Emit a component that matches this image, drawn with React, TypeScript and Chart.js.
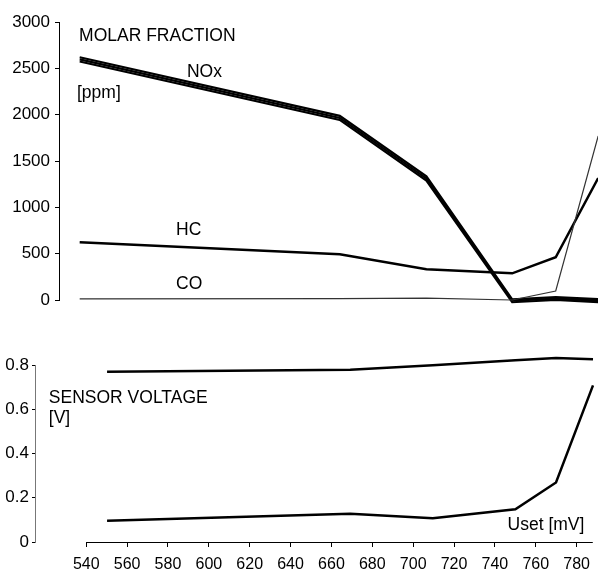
import React, { useEffect, useRef } from 'react';
import { Chart, registerables } from 'chart.js';

Chart.register(...registerables);

const FONT = "'Liberation Sans', Arial, Helvetica, sans-serif";

// Upper panel: molar fraction [ppm] vs Uset [mV]
const GAS_X = [536.6, 662.7, 704.7, 746.3, 767.4, 788];
const NOX_A = [2620, 1987, 1335, 8, 30, 10];
const NOX_B = [2597, 1965, 1312, -8, 14, -6];
const NOX_C = [2574, 1943, 1289, -24, 0, -22];
const HC = [622, 493, 331, 288, 461, 1316];
const CO = [12, 15, 20, 0, 97, 1770];

// Lower panel: sensor voltage [V] vs Uset [mV]
const VOLT_X = [550.2, 669.2, 709.6, 750, 769.9, 788];
const V_HIGH = [0.77, 0.779, 0.799, 0.821, 0.832, 0.826];
const V_LOW = [0.096, 0.128, 0.107, 0.148, 0.269, 0.708];

// Tick labels
const X_TICKS = [540, 560, 580, 600, 620, 640, 660, 680, 700, 720, 740, 760, 780];
const PPM_TICKS = [0, 500, 1000, 1500, 2000, 2500, 3000];
const V_TICKS = [0, 0.2, 0.4, 0.6, 0.8];

// Text labels (placed in data coordinates)
const TOP_TEXTS = [
  { text: 'MOLAR FRACTION', x: 536.3, y: 2798 },
  { text: 'NOx', x: 588.6, y: 2403 },
  { text: '[ppm]', x: 535.3, y: 2180 },
  { text: 'HC', x: 583.3, y: 701 },
  { text: 'CO', x: 583.3, y: 124 },
];
const BOTTOM_TEXTS = [
  { text: 'SENSOR VOLTAGE', x: 521.7, y: 0.626 },
  { text: '[V]', x: 521.7, y: 0.54 },
  { text: 'Uset [mV]', x: 746.2, y: 0.054 },
];

const pts = (xs: number[], ys: number[]) => xs.map((x, i) => ({ x, y: ys[i] }));

const textPlugin = (items: { text: string; x: number; y: number }[]) => ({
  id: 'texts',
  afterDatasetsDraw(chart: any) {
    const { ctx, scales } = chart;
    ctx.save();
    ctx.fillStyle = '#000';
    ctx.font = `17.5px ${FONT}`;
    ctx.textAlign = 'left';
    ctx.textBaseline = 'alphabetic';
    for (const it of items) {
      ctx.fillText(it.text, scales.x.getPixelForValue(it.x), scales.y.getPixelForValue(it.y));
    }
    ctx.restore();
  },
});

const xAxisLine = {
  id: 'xAxisLine',
  afterDraw(chart: any) {
    const { ctx, chartArea, scales } = chart;
    const x0 = scales.x.getPixelForValue(X_TICKS[0]);
    const y = Math.round(chartArea.bottom) + 0.5;
    ctx.save();
    ctx.strokeStyle = '#000';
    ctx.lineWidth = 1;
    ctx.beginPath();
    ctx.moveTo(x0, y);
    ctx.lineTo(chartArea.right, y);
    ctx.stroke();
    ctx.restore();
  },
};

const line = (data: any[], width: number, color = '#000') => ({
  data,
  borderColor: color,
  backgroundColor: color,
  borderWidth: width,
  pointRadius: 0,
  tension: 0,
  fill: false,
  clip: false as any,
});

export default function App() {
  const topRef = useRef<HTMLCanvasElement>(null);
  const botRef = useRef<HTMLCanvasElement>(null);

  useEffect(() => {
    const common = {
      animation: false as const,
      responsive: false,
      events: [] as any[],
      plugins: { legend: { display: false }, tooltip: { enabled: false } },
    };

    const top = new Chart(topRef.current!, {
      type: 'line',
      data: {
        datasets: [
          line(pts(GAS_X, CO), 1.2, '#333'),
          line(pts(GAS_X, HC), 2.5),
          line(pts(GAS_X, NOX_A), 2.2),
          line(pts(GAS_X, NOX_B), 2.2),
          line(pts(GAS_X, NOX_C), 2.2),
        ],
      },
      options: {
        ...common,
        layout: { padding: { top: 22, bottom: 20, left: 0, right: 0 } },
        scales: {
          x: { type: 'linear', display: false, min: 526.57, max: 787.9 },
          y: {
            type: 'linear',
            min: 0,
            max: 3000,
            afterBuildTicks: (s: any) => {
              s.ticks = PPM_TICKS.map((v) => ({ value: v }));
            },
            afterFit: (s: any) => {
              s.width = 59;
            },
            grid: { drawOnChartArea: false, drawTicks: true, tickLength: 4, color: '#000', lineWidth: 1 },
            border: { display: true, color: '#000', width: 1 },
            ticks: {
              color: '#000',
              padding: 5,
              font: { family: FONT, size: 17 },
              callback: (v: any) => String(v),
            },
          },
        },
      },
      plugins: [textPlugin(TOP_TEXTS)],
    } as any);

    const bottom = new Chart(botRef.current!, {
      type: 'line',
      data: {
        datasets: [line(pts(VOLT_X, V_HIGH), 2.5), line(pts(VOLT_X, V_LOW), 2.5)],
      },
      options: {
        ...common,
        layout: { padding: { top: 45, bottom: 0, left: 0, right: 0 } },
        scales: {
          x: {
            type: 'linear',
            min: 514.93,
            max: 787.9,
            afterBuildTicks: (s: any) => {
              s.ticks = X_TICKS.map((v) => ({ value: v }));
            },
            afterFit: (s: any) => {
              s.height = 30;
            },
            grid: { drawOnChartArea: false, drawTicks: true, tickLength: 5, color: '#000' },
            border: { display: false },
            ticks: {
              color: '#000',
              padding: 8,
              autoSkip: false,
              maxRotation: 0,
              font: { family: FONT, size: 16 },
              callback: (v: any) => String(v),
            },
          },
          y: {
            type: 'linear',
            min: 0,
            max: 0.8,
            afterBuildTicks: (s: any) => {
              s.ticks = V_TICKS.map((v) => ({ value: v }));
            },
            afterFit: (s: any) => {
              s.width = 35;
            },
            grid: { drawOnChartArea: false, drawTicks: true, tickLength: 3, color: '#000' },
            border: { display: true, color: '#777', width: 1 },
            ticks: {
              color: '#000',
              padding: 3,
              font: { family: FONT, size: 17 },
              callback: (v: any) => String(v),
            },
          },
        },
      },
      plugins: [textPlugin(BOTTOM_TEXTS), xAxisLine],
    } as any);

    return () => {
      top.destroy();
      bottom.destroy();
    };
  }, []);

  return (
    <div style={{ position: 'absolute', left: 0, top: 0, width: 598, height: 572, background: '#fff' }}>
      <canvas ref={topRef} width={598} height={320} style={{ position: 'absolute', left: 0, top: 0, display: 'block' }} />
      <canvas ref={botRef} width={598} height={252} style={{ position: 'absolute', left: 0, top: 320, display: 'block' }} />
    </div>
  );
}
